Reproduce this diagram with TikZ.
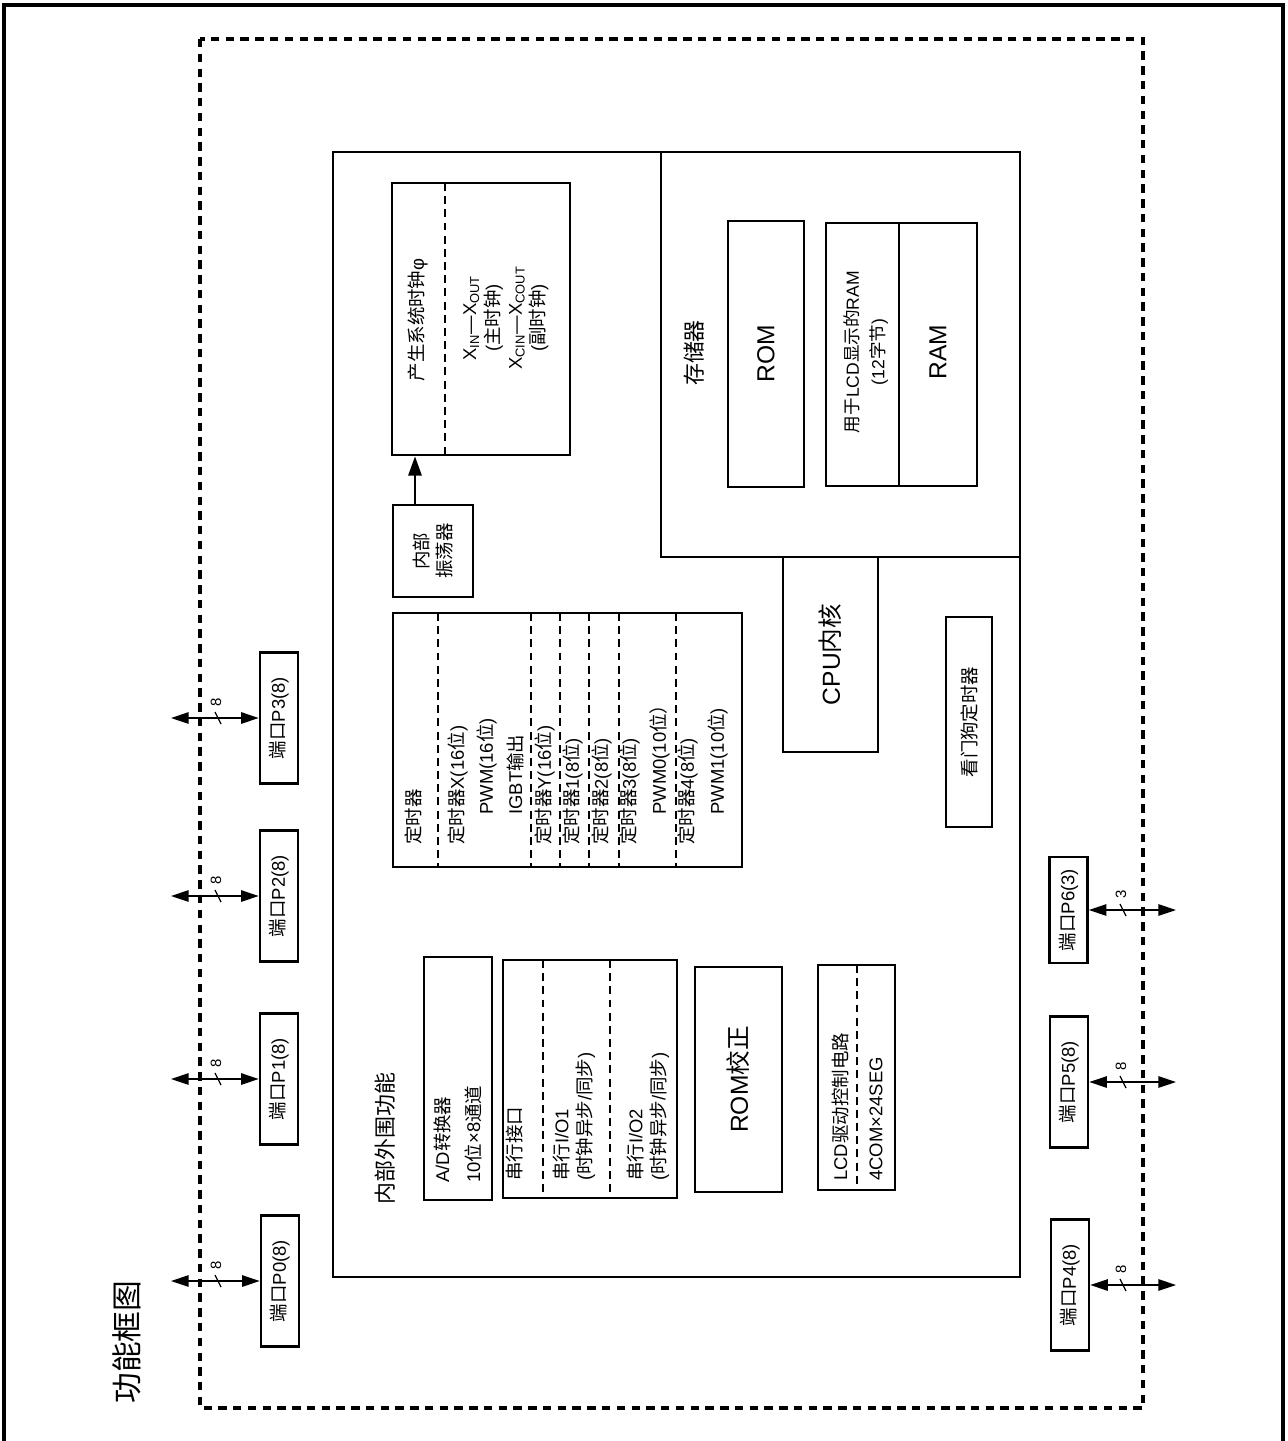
\documentclass[tikz,border=0pt]{standalone}
\usepackage{fontspec}
\setmainfont{Liberation Sans}
\newfontfamily\cjk{Noto Sans CJK SC}
\usetikzlibrary{arrows.meta}
% CJK characters are set in Noto Sans CJK SC
\XeTeXinterchartokenstate=1
\newXeTeXintercharclass\cjkclass
\newcount\cjkcnt
\cjkcnt="3000
\loop\XeTeXcharclass\cjkcnt=\cjkclass \advance\cjkcnt by 1 \ifnum\cjkcnt<"3040 \repeat
\cjkcnt="4E00
\loop\XeTeXcharclass\cjkcnt=\cjkclass \advance\cjkcnt by 1 \ifnum\cjkcnt<"A000 \repeat
\cjkcnt="FF00
\loop\XeTeXcharclass\cjkcnt=\cjkclass \advance\cjkcnt by 1 \ifnum\cjkcnt<"FFF0 \repeat
\XeTeXinterchartoks 0 \cjkclass = {\cjk}
\XeTeXinterchartoks 4095 \cjkclass = {\cjk}
\XeTeXinterchartoks \cjkclass 0 = {\rmfamily}
\XeTeXinterchartoks \cjkclass 4095 = {\rmfamily}

\begin{document}
\begin{tikzpicture}[x=0.02cm, y=-0.02cm,
    box/.style={draw, line width=1.5pt},
    bx/.style 2 args={box, rotate=90, minimum width=#2*0.02cm, minimum height=#1*0.02cm, inner sep=0pt, align=center},
    lbl/.style={font=\fontsize{10.5}{13}\selectfont, inner sep=0pt},
    vlbl/.style={lbl, rotate=90, anchor=west, align=left},
    big/.style={font=\fontsize{14}{16}\selectfont},
    portfont/.style={font=\fontsize{10.5}{12}\selectfont},
    divider/.style={line width=1pt, dash pattern=on 4.5pt off 3pt},
    biarrow/.style={{Triangle[length=10pt,width=6.5pt]}-{Triangle[length=10pt,width=6.5pt]}, line width=0.8pt},
    tick/.style={line width=0.7pt},
    busw/.style={rotate=90, font=\fontsize{8.5}{9}\selectfont, inner sep=0pt}]
  \useasboundingbox (0,0) rectangle (1288,1441);

  % frames
  \draw[line width=2pt] (4,1441) -- (4,5) -- (1283,5) -- (1283,1441);
  \draw[line width=1.8pt, dash pattern=on 4.8pt off 3.6pt] (200,39) rectangle (1143,1408);
  \draw[box] (333,152) rectangle (1020,1277);
  \draw[line width=0.7pt] (661,152) -- (661,557) -- (1020,557);

  \node[rotate=90, font=\fontsize{17.5}{20}\selectfont, inner sep=0pt] (title) at (127,1342) {功能框图};

  % clock
  \node[bx={178}{272}] (clk) at (481,319) {};
  \draw[divider] (445,183) -- (445,455);
  \node[lbl, rotate=90] (clkname) at (418,320) {产生系统时钟φ};
  \node[lbl, rotate=90, align=center] (clksrc) at (506,318) {X\textsubscript{IN}—X\textsubscript{OUT}\\(主时钟)\\X\textsubscript{CIN}—X\textsubscript{COUT}\\(副时钟)};
  \node[bx={80}{92}, lbl] (osc) at (433,551) {内部\\振荡器};
  \coordinate (oscx) at (415,0);
  \draw[line width=1.5pt, -{Triangle[length=11pt,width=7.5pt]}] (osc.east -| oscx) -- (clk.west -| oscx);

  % timers
  \node[bx={349}{254}] (tmr) at (567.5,740) {};
  \draw[divider] (438,613) -- (438,867) (531,613) -- (531,867) (560,613) -- (560,867)
    (589,613) -- (589,867) (619,613) -- (619,867) (676,613) -- (676,867);
  \node[vlbl] (tmrname) at (413,845) {定时器};
  \node[vlbl] (tmrx) at (458,845) {定时器X(16位)};
  \node[vlbl] (pwmx) at (487,815) {PWM(16位)};
  \node[vlbl] (igbt) at (515,815) {IGBT输出};
  \node[vlbl] (tmry) at (545,845) {定时器Y(16位)};
  \node[vlbl] (tmr1) at (573,845) {定时器1(8位)};
  \node[vlbl] (tmr2) at (602,845) {定时器2(8位)};
  \node[vlbl] (tmr3) at (630,845) {定时器3(8位)};
  \node[vlbl] (pwm0) at (660,815) {PWM0(10位）};
  \node[vlbl] (tmr4) at (688,845) {定时器4(8位)};
  \node[vlbl] (pwm1) at (718,815) {PWM1(10位)};

  % memory
  \node[rotate=90, font=\fontsize{12.5}{14}\selectfont, inner sep=0pt] (memname) at (694,353) {存储器};
  \node[bx={76}{266}, big] (rom) at (766,354) {ROM};
  \node[bx={151}{263}] (ram) at (901.5,354.5) {};
  \draw[line width=0.7pt] (899,223) -- (899,486);
  \node[lbl, rotate=90, align=center, font=\fontsize{10}{14.5}\selectfont] (lcdram) at (866,352) {用于LCD显示的RAM\\(12字节)};
  \node[big, rotate=90, inner sep=0pt] (ramname) at (938,352) {RAM};

  \node[bx={95}{195}, big] (cpu) at (830.5,654.5) {CPU内核};
  \node[bx={46}{210}, lbl] (wdt) at (969,722) {看门狗定时器};

  % peripherals
  \node[rotate=90, anchor=west, font=\fontsize{12.5}{14}\selectfont, inner sep=0pt] (periph) at (385,1205) {内部外围功能};
  \node[bx={68}{243}] (adc) at (458,1078.5) {};
  \node[vlbl] (adcname) at (442,1183) {A/D转换器};
  \node[vlbl] (adcch) at (473,1183) {10位×8通道};
  \node[bx={174}{238}] (sio) at (590,1079) {};
  \draw[divider] (543,960) -- (543,1198) (610,960) -- (610,1198);
  \node[vlbl] (sioname) at (515,1181) {串行接口};
  \node[vlbl] (sio1) at (574,1181) {串行I/O1\\(时钟异步/同步)};
  \node[vlbl] (sio2) at (648,1181) {串行I/O2\\(时钟异步/同步)};
  \node[bx={87}{225}, big] (romc) at (738.5,1079.5) {ROM校正};
  \node[bx={77}{225}] (lcd) at (856.5,1077.5) {};
  \draw[divider] (857,965) -- (857,1190);
  \node[vlbl] (lcdname) at (840,1181) {LCD驱动控制电路};
  \node[vlbl] (lcdseg) at (876,1181) {4COM×24SEG};

  % ports
  \coordinate (lend) at (171,0);
  \coordinate (rend) at (1176,0);
  \node[bx={38}{131}, portfont] (p3) at (279,718) {端口P3(8)};
  \node[bx={38}{131}, portfont] (p2) at (279,896) {端口P2(8)};
  \node[bx={38}{131}, portfont] (p1) at (279,1079) {端口P1(8)};
  \node[bx={38}{131}, portfont] (p0) at (280,1281) {端口P0(8)};
  \node[bx={38}{106}, portfont] (p6) at (1068.5,910) {端口P6(3)};
  \node[bx={38}{131}, portfont] (p5) at (1069,1082) {端口P5(8)};
  \node[bx={38}{131}, portfont] (p4) at (1070,1285) {端口P4(8)};

  \draw[biarrow] (lend |- p3.north) -- (p3.north);
  \draw[biarrow] (lend |- p2.north) -- (p2.north);
  \draw[biarrow] (lend |- p1.north) -- (p1.north);
  \draw[biarrow] (lend |- p0.north) -- (p0.north);
  \draw[biarrow] (p6.south) -- (p6.south -| rend);
  \draw[biarrow] (p5.south) -- (p5.south -| rend);
  \draw[biarrow] (p4.south) -- (p4.south -| rend);

  \draw[tick] (215,712) -- (221,724);
  \node[busw] (w3) at (216,702) {8};
  \draw[tick] (215,890) -- (221,902);
  \node[busw] (w2) at (216,880) {8};
  \draw[tick] (215,1073) -- (221,1085);
  \node[busw] (w1) at (216,1063) {8};
  \draw[tick] (215,1275) -- (221,1287);
  \node[busw] (w0) at (216,1265) {8};
  \draw[tick] (1120,904) -- (1126,916);
  \node[busw] (w6) at (1121,894) {3};
  \draw[tick] (1120,1076) -- (1126,1088);
  \node[busw] (w5) at (1121,1066) {8};
  \draw[tick] (1120,1279) -- (1126,1291);
  \node[busw] (w4) at (1121,1269) {8};
\end{tikzpicture}
\end{document}
